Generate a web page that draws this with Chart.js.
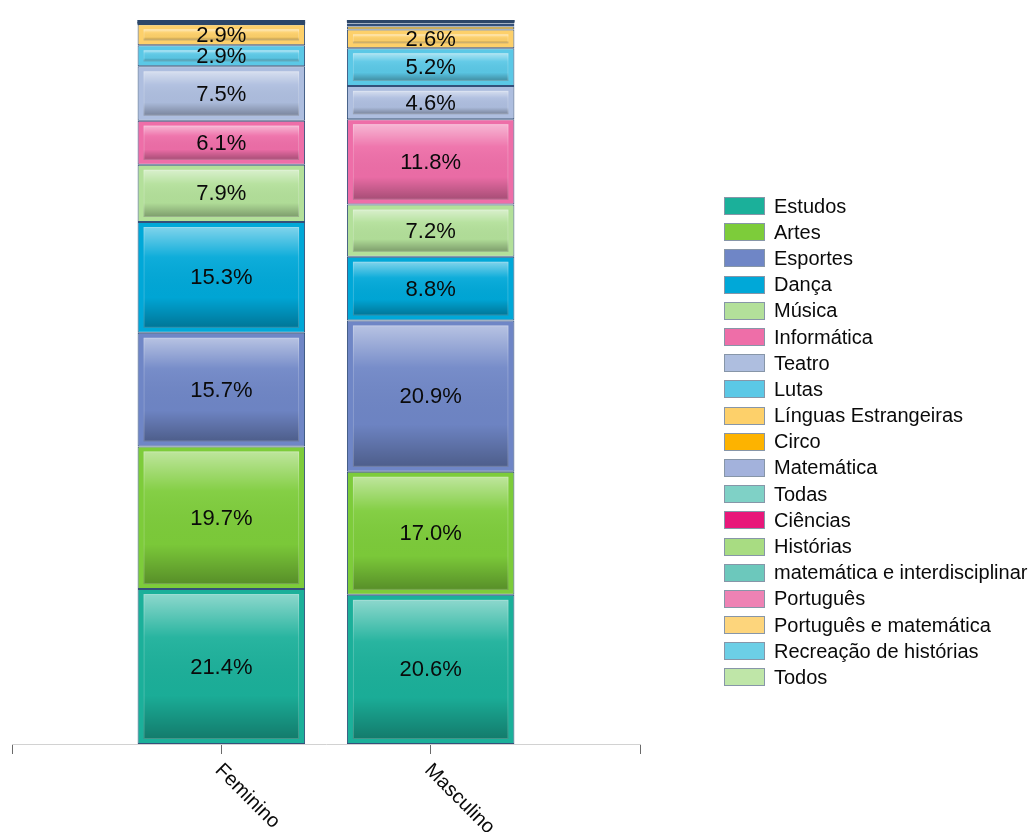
<!DOCTYPE html>
<html>
<head>
<meta charset="utf-8">
<script src="https://cdn.jsdelivr.net/npm/chart.js@4.4.1/dist/chart.umd.min.js"></script>
<style>
    html, body { margin: 0; padding: 0; background: #fff; overflow: hidden; }
    #wrap { position: relative; width: 1030px; height: 832px; }
    #legend { position: absolute; left: 724px; top: 193px; font-family: 'Liberation Sans', Arial, sans-serif; font-size: 20px; color: #0a0a0a; white-space: nowrap; }
    .row { height: 26.2px; display: flex; align-items: center; }
    .box { box-sizing: border-box; width: 41px; height: 18px; border: 1.5px solid #8796a8; margin-right: 9px; flex: none; }
</style>
</head>
<body>
<div id="wrap">
    <canvas id="barChart" width="1030" height="832"></canvas>
    <div id="legend"></div>
</div>
<script>
// 类别与数值（百分比）
const genders = ['Feminino', 'Masculino'];
const subjects = ['Estudos', 'Artes', 'Esportes', 'Dança', 'Música', 'Informática', 'Teatro', 'Lutas',
    'Línguas Estrangeiras', 'Circo', 'Matemática', 'Todas', 'Ciências', 'Histórias',
    'matemática e interdisciplinar', 'Português', 'Português e matemática', 'Recreação de histórias', 'Todos'];
const feminino = [21.4, 19.7, 15.7, 15.3, 7.9, 6.1, 7.5, 2.9, 2.9, 0.1, 0.1, 0.1, 0.1, 0.1, 0, 0.1, 0, 0, 0];
const masculino = [20.6, 17.0, 20.9, 8.8, 7.2, 11.8, 4.6, 5.2, 2.6, 0.4, 0.2, 0.2, 0, 0.2, 0.1, 0, 0, 0.1, 0.1];
const colors = ['#1bb09a', '#7dcc3a', '#6f86c6', '#00a8d8', '#b3e09a', '#ee6ea8', '#aebedf', '#5bc8e6',
    '#fdd06a', '#fdb300', '#a3b2dc', '#7fd1c6', '#e8177a', '#a8dc82', '#6cc8bc', '#ee82b4', '#fdd57c', '#6ccfe6', '#bfe6a8'];

// 两端留空的类目，使刻度落在 1/3 与 2/3 处
const xLabels = ['', ...genders, ''];

const FONT = "'Liberation Sans', Arial, sans-serif";
const EDGE = '#2c4668';

/**
 * 每段柱子的光泽效果 + 百分比标签 + 斜向类目标签
 */
const decorPlugin = {
    id: 'decor',
    afterDatasetsDraw(chart) {
        const ctx = chart.ctx;
        ctx.save();
        chart.data.datasets.forEach((ds, di) => {
            const meta = chart.getDatasetMeta(di);
            meta.data.forEach((el, i) => {
                const v = ds.data[i];
                if (v === null || v === undefined || v === 0) return;
                const top = Math.min(el.y, el.base);
                const h = Math.abs(el.base - el.y);
                const left = el.x - el.width / 2;
                // 极薄的段只剩边框色，按整像素补满
                if (v < 0.15) {
                    ctx.fillStyle = EDGE;
                    ctx.fillRect(left, Math.floor(top), el.width, Math.max(1, Math.ceil(top + h) - Math.floor(top)));
                    return;
                }
                if (h > 6) {
                    const inset = h > 14 ? 5 : 2;
                    const g = ctx.createLinearGradient(0, top + inset, 0, top + h - inset);
                    g.addColorStop(0, 'rgba(255,255,255,0.5)');
                    g.addColorStop(0.3, 'rgba(255,255,255,0.06)');
                    g.addColorStop(0.7, 'rgba(0,0,0,0.02)');
                    g.addColorStop(1, 'rgba(0,0,0,0.3)');
                    ctx.fillStyle = g;
                    ctx.fillRect(left + inset + 1, top + inset, el.width - 2 * inset - 2, h - 2 * inset);
                    ctx.strokeStyle = 'rgba(255,255,255,0.2)';
                    ctx.lineWidth = 1;
                    ctx.strokeRect(left + inset + 1.5, top + inset + 0.5, el.width - 2 * inset - 3, h - 2 * inset - 1);
                }
            });
        });
        // 百分比标签
        ctx.fillStyle = '#0a0a0a';
        ctx.font = '22px ' + FONT;
        ctx.textAlign = 'center';
        ctx.textBaseline = 'middle';
        chart.data.datasets.forEach((ds, di) => {
            const meta = chart.getDatasetMeta(di);
            meta.data.forEach((el, i) => {
                const v = ds.data[i];
                if (v === null || v < 2) return;
                ctx.fillText(v.toFixed(1) + '%', el.x, (el.y + el.base) / 2 + 1);
            });
        });
        // 类目标签（顺时针 45°）
        const xs = chart.scales.x;
        ctx.font = '20px ' + FONT;
        ctx.textAlign = 'left';
        ctx.textBaseline = 'alphabetic';
        xLabels.forEach((lab, i) => {
            if (!lab) return;
            const px = xs.getPixelForTick(i);
            ctx.save();
            ctx.translate(px - 7, xs.top + 27);
            ctx.rotate(Math.PI / 4);
            ctx.fillText(lab, 0, 0);
            ctx.restore();
        });
        ctx.restore();
    }
};

const barCtx = document.getElementById('barChart');
const barChart = new Chart(barCtx.getContext('2d'), {
    type: 'bar',
    data: {
        labels: xLabels,
        datasets: subjects.map((s, i) => ({
            label: s,
            data: [null, feminino[i], masculino[i], null],
            backgroundColor: colors[i],
            borderColor: '#34507a',
            borderWidth: 1,
            borderSkipped: false,
            barPercentage: 1,
            categoryPercentage: 0.8
        }))
    },
    options: {
        responsive: false,
        animation: false,
        devicePixelRatio: 1,
        layout: { padding: { left: 12, top: 20, right: 390, bottom: 78 } },
        plugins: { legend: { display: false }, tooltip: { enabled: false } },
        scales: {
            x: {
                stacked: true,
                offset: false,
                grid: { display: true, drawOnChartArea: false, drawTicks: true, tickLength: 10, color: '#6a6a6a', offset: false },
                border: { display: true, color: '#d2d2d2', width: 1 },
                ticks: { display: false }
            },
            y: { stacked: true, display: false, min: 0, max: 100 }
        }
    },
    plugins: [decorPlugin]
});

// HTML 图例
const legendEl = document.getElementById('legend');
subjects.forEach((s, i) => {
    const row = document.createElement('div');
    row.className = 'row';
    const box = document.createElement('span');
    box.className = 'box';
    box.style.background = colors[i];
    const txt = document.createElement('span');
    txt.textContent = s;
    row.appendChild(box);
    row.appendChild(txt);
    legendEl.appendChild(row);
});
</script>
</body>
</html>
